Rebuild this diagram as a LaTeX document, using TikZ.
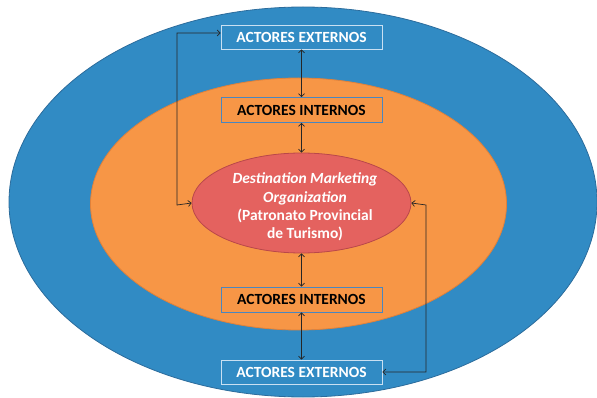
\documentclass[tikz,border=0pt]{standalone}
\usepackage{fontspec}
\setmainfont{Carlito}
\usetikzlibrary{shapes.geometric,arrows.meta}
\definecolor{outerblue}{HTML}{318BC4}
\definecolor{outerline}{HTML}{2C6C9C}
\definecolor{midorange}{HTML}{F79646}
\definecolor{midline}{HTML}{E0813A}
\definecolor{innerred}{HTML}{E4625F}
\definecolor{innerline}{HTML}{B9474A}
\definecolor{extborder}{HTML}{C9E0F2}
\definecolor{intborder}{HTML}{4A86BF}
\tikzset{
  ring/.style={ellipse, inner sep=0pt, line width=0.8pt},
  extbox/.style={draw=extborder, fill=outerblue, line width=0.9pt, minimum width=161pt, minimum height=24pt, inner sep=0pt, text=white, font=\bfseries\fontsize{15.5}{18}\selectfont},
  intbox/.style={draw=intborder, fill=midorange, line width=0.7pt, minimum width=161pt, minimum height=25pt, inner sep=0pt, text=black, font=\bfseries\fontsize{15.5}{18}\selectfont},
  conn/.style={draw=black!85, line width=0.7pt, {Straight Barb[length=3pt,width=6pt]}-{Straight Barb[length=3pt,width=6pt]}}
}
\begin{document}
\begin{tikzpicture}[x=1pt,y=-1pt]
\useasboundingbox (0,0) rectangle (597,398);
\node[ring, draw=outerline, fill=outerblue, minimum width=588pt, minimum height=390pt] (outer) at (303,202) {};
\node[ring, draw=midline, fill=midorange, minimum width=416pt, minimum height=252pt] (mid) at (298.5,204) {};
\node[ring, draw=innerline, fill=innerred, minimum width=219pt, minimum height=100pt] (dmo) at (301.5,203) {};
\node[text=white, font=\bfseries\fontsize{15.5}{18.2}\selectfont, align=center] (dmotext) at (305,207) {\itshape Destination Marketing\\ \itshape Organization\\(Patronato Provincial\\de Turismo)};
\node[extbox] (exttop) at (301.5,37) {ACTORES EXTERNOS};
\node[intbox] (inttop) at (301.5,110) {ACTORES INTERNOS};
\node[intbox] (intbot) at (301.5,299.5) {ACTORES INTERNOS};
\node[extbox] (extbot) at (301.5,372) {ACTORES EXTERNOS};
\draw[conn] (exttop.south) -- (inttop.north);
\draw[conn] (inttop.south) -- (dmo.north);
\draw[conn] (dmo.south) -- (intbot.north);
\draw[conn] (intbot.south) -- (extbot.north);
\coordinate (lx) at (177,205);
\coordinate (ly) at (177,33);
\coordinate (rx) at (426,205);
\coordinate (ry) at (426,372);
\draw[conn] (dmo.west) -- (lx) -- (ly) -- (exttop.west |- ly);
\draw[conn] (dmo.east) -- (rx) -- (ry) -- (extbot.east);
\end{tikzpicture}
\end{document}
